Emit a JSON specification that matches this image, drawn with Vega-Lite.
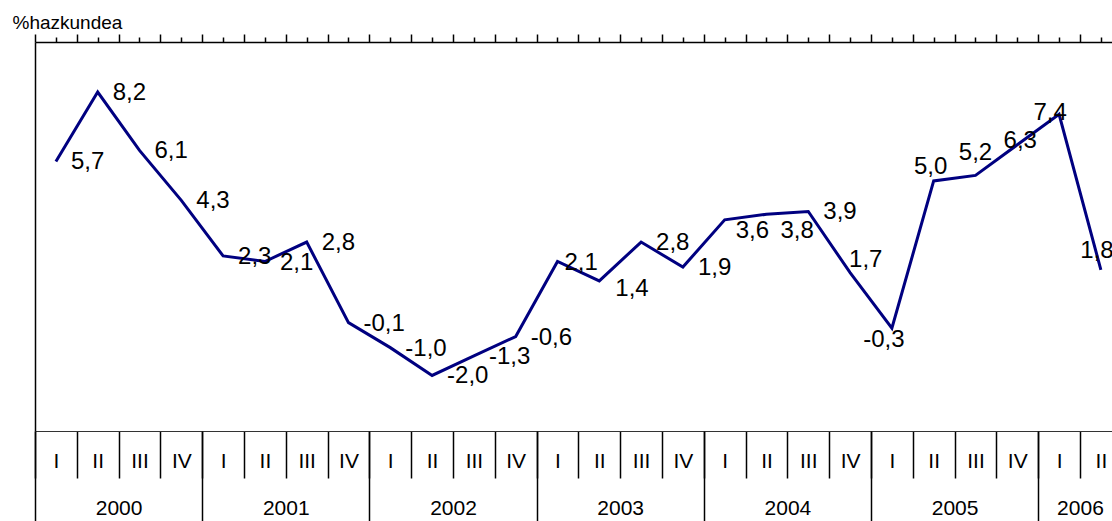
{
  "$schema": "https://vega.github.io/schema/vega-lite/v6.json",
  "width": 1077,
  "height": 389,
  "autosize": "none",
  "padding": {"left": 35, "top": 42, "right": 0, "bottom": 90},
  "background": "#ffffff",
  "config": {
    "view": {"stroke": null},
    "locale": {"number": {"decimal": ",", "thousands": ".", "grouping": [3], "currency": ["", " €"], "minus": "-"}},
    "axis": {"labelFont": "Liberation Sans", "titleFont": "Liberation Sans", "labelColor": "#000", "titleColor": "#000", "domainColor": "#000", "tickColor": "#000", "grid": false}
  },
  "data": {"values": [
    {"n": 1, "year": "2000", "q": "I", "v": 5.7},
    {"n": 2, "year": "2000", "q": "II", "v": 8.2},
    {"n": 3, "year": "2000", "q": "III", "v": 6.1},
    {"n": 4, "year": "2000", "q": "IV", "v": 4.3},
    {"n": 5, "year": "2001", "q": "I", "v": 2.3},
    {"n": 6, "year": "2001", "q": "II", "v": 2.1},
    {"n": 7, "year": "2001", "q": "III", "v": 2.8},
    {"n": 8, "year": "2001", "q": "IV", "v": -0.1},
    {"n": 9, "year": "2002", "q": "I", "v": -1.0},
    {"n": 10, "year": "2002", "q": "II", "v": -2.0},
    {"n": 11, "year": "2002", "q": "III", "v": -1.3},
    {"n": 12, "year": "2002", "q": "IV", "v": -0.6},
    {"n": 13, "year": "2003", "q": "I", "v": 2.1},
    {"n": 14, "year": "2003", "q": "II", "v": 1.4},
    {"n": 15, "year": "2003", "q": "III", "v": 2.8},
    {"n": 16, "year": "2003", "q": "IV", "v": 1.9},
    {"n": 17, "year": "2004", "q": "I", "v": 3.6},
    {"n": 18, "year": "2004", "q": "II", "v": 3.8},
    {"n": 19, "year": "2004", "q": "III", "v": 3.9},
    {"n": 20, "year": "2004", "q": "IV", "v": 1.7},
    {"n": 21, "year": "2005", "q": "I", "v": -0.3},
    {"n": 22, "year": "2005", "q": "II", "v": 5.0},
    {"n": 23, "year": "2005", "q": "III", "v": 5.2},
    {"n": 24, "year": "2005", "q": "IV", "v": 6.3},
    {"n": 25, "year": "2006", "q": "I", "v": 7.4},
    {"n": 26, "year": "2006", "q": "II", "v": 1.8}
  ]},
  "layer": [
    {
      "encoding": {
        "x": {"field": "n", "type": "quantitative",
          "scale": {"domain": [0.5, 26.266], "nice": false, "zero": false},
          "axis": {"orient": "top", "title": null, "labels": false, "grid": false,
            "values": [0.5,1,1.5,2,2.5,3,3.5,4,4.5,5,5.5,6,6.5,7,7.5,8,8.5,9,9.5,10,10.5,11,11.5,12,12.5,13,13.5,14,14.5,15,15.5,16,16.5,17,17.5,18,18.5,19,19.5,20,20.5,21,21.5,22,22.5,23,23.5,24,24.5,25,25.5,26],
            "tickSize": {"condition": {"test": "datum.value % 1 !== 0", "value": 8}, "value": 5},
            "tickWidth": 1.5, "domainWidth": 1.5}},
        "y": {"field": "v", "type": "quantitative",
          "scale": {"domain": [-4, 10], "nice": false, "zero": false},
          "axis": {"orient": "left", "labels": false, "ticks": false, "grid": false, "domainWidth": 1.5,
            "title": "%hazkundea", "titleAngle": 0, "titleX": -23, "titleY": -14, "titleAlign": "left",
            "titleBaseline": "alphabetic", "titleFontSize": 19, "titleFontWeight": "normal"}}
      },
      "layer": [
        {"mark": {"type": "line", "color": "#000080", "strokeWidth": 3}},
        {"transform": [{"filter": "indexof([13,14,17,18,20,21,22,23,24,25,26], datum.n) < 0"}],
         "mark": {"type": "text", "align": "left", "baseline": "middle", "dx": 15, "dy": 1, "font": "Liberation Sans", "fontSize": 24, "color": "#000"},
         "encoding": {"text": {"field": "v", "type": "quantitative", "format": ".1f"}}},
        {"transform": [{"filter": "datum.n == 13"}],
         "mark": {"type": "text", "align": "left", "baseline": "middle", "dx": 7, "dy": 1, "font": "Liberation Sans", "fontSize": 24, "color": "#000"},
         "encoding": {"text": {"field": "v", "type": "quantitative", "format": ".1f"}}},
        {"transform": [{"filter": "datum.n == 14"}],
         "mark": {"type": "text", "align": "left", "baseline": "middle", "dx": 16, "dy": 8, "font": "Liberation Sans", "fontSize": 24, "color": "#000"},
         "encoding": {"text": {"field": "v", "type": "quantitative", "format": ".1f"}}},
        {"transform": [{"filter": "datum.n == 17"}],
         "mark": {"type": "text", "align": "left", "baseline": "middle", "dx": 11, "dy": 11.5, "font": "Liberation Sans", "fontSize": 24, "color": "#000"},
         "encoding": {"text": {"field": "v", "type": "quantitative", "format": ".1f"}}},
        {"transform": [{"filter": "datum.n == 18"}],
         "mark": {"type": "text", "align": "left", "baseline": "middle", "dx": 14, "dy": 17, "font": "Liberation Sans", "fontSize": 24, "color": "#000"},
         "encoding": {"text": {"field": "v", "type": "quantitative", "format": ".1f"}}},
        {"transform": [{"filter": "datum.n == 20"}],
         "mark": {"type": "text", "align": "left", "baseline": "middle", "dx": -1, "dy": -13, "font": "Liberation Sans", "fontSize": 24, "color": "#000"},
         "encoding": {"text": {"field": "v", "type": "quantitative", "format": ".1f"}}},
        {"transform": [{"filter": "datum.n == 21"}],
         "mark": {"type": "text", "align": "center", "baseline": "middle", "dx": -8, "dy": 12, "font": "Liberation Sans", "fontSize": 24, "color": "#000"},
         "encoding": {"text": {"field": "v", "type": "quantitative", "format": ".1f"}}},
        {"transform": [{"filter": "datum.n == 22"}],
         "mark": {"type": "text", "align": "center", "baseline": "middle", "dx": -3, "dy": -13.5, "font": "Liberation Sans", "fontSize": 24, "color": "#000"},
         "encoding": {"text": {"field": "v", "type": "quantitative", "format": ".1f"}}},
        {"transform": [{"filter": "datum.n == 23"}],
         "mark": {"type": "text", "align": "center", "baseline": "middle", "dx": 0, "dy": -22, "font": "Liberation Sans", "fontSize": 24, "color": "#000"},
         "encoding": {"text": {"field": "v", "type": "quantitative", "format": ".1f"}}},
        {"transform": [{"filter": "datum.n == 24"}],
         "mark": {"type": "text", "align": "center", "baseline": "middle", "dx": 3, "dy": -3.5, "font": "Liberation Sans", "fontSize": 24, "color": "#000"},
         "encoding": {"text": {"field": "v", "type": "quantitative", "format": ".1f"}}},
        {"transform": [{"filter": "datum.n == 25"}],
         "mark": {"type": "text", "align": "center", "baseline": "middle", "dx": -9, "dy": -1, "font": "Liberation Sans", "fontSize": 24, "color": "#000"},
         "encoding": {"text": {"field": "v", "type": "quantitative", "format": ".1f"}}},
        {"transform": [{"filter": "datum.n == 26"}],
         "mark": {"type": "text", "align": "center", "baseline": "middle", "dx": -4, "dy": -18.5, "font": "Liberation Sans", "fontSize": 24, "color": "#000"},
         "encoding": {"text": {"field": "v", "type": "quantitative", "format": ".1f"}}}
      ]
    },
    {
      "mark": {"type": "point", "opacity": 0},
      "encoding": {
        "x": {"field": "n", "type": "quantitative",
          "scale": {"domain": [0.5, 26.266], "nice": false, "zero": false},
          "axis": {"orient": "bottom", "title": null, "grid": false,
            "values": [0.5,1.5,2.5,3.5,4.5,5.5,6.5,7.5,8.5,9.5,10.5,11.5,12.5,13.5,14.5,15.5,16.5,17.5,18.5,19.5,20.5,21.5,22.5,23.5,24.5,25.5],
            "domain": true, "domainColor": "#333", "domainWidth": 1,
            "tickSize": 47, "tickWidth": 1.5,
            "labelOffset": 20.9, "labelPadding": -16.3, "labelBaseline": "middle",
            "labelFlush": false, "labelOverlap": false, "labelBound": false,
            "labelFontSize": 21,
            "labelExpr": "['I','II','III','IV'][round(datum.value - 0.5) % 4]"}}
      }
    },
    {
      "mark": {"type": "point", "opacity": 0},
      "encoding": {
        "x": {"field": "n", "type": "quantitative",
          "scale": {"domain": [0.5, 26.266], "nice": false, "zero": false},
          "axis": {"orient": "bottom", "title": null, "grid": false,
            "values": [0.5,4.5,8.5,12.5,16.5,20.5,24.5],
            "domain": false,
            "tickSize": 90, "tickWidth": 1.5,
            "labelOffset": {"condition": {"test": "datum.value > 24", "value": 41.8}, "value": 83.6},
            "labelPadding": -12.3, "labelBaseline": "middle",
            "labelFlush": false, "labelOverlap": false, "labelBound": false,
            "labelFontSize": 21,
            "labelExpr": "'' + (2000 + floor((datum.value - 0.5) / 4))"}}
      }
    }
  ],
  "resolve": {"scale": {"x": "independent"}, "axis": {"x": "independent"}}
}
